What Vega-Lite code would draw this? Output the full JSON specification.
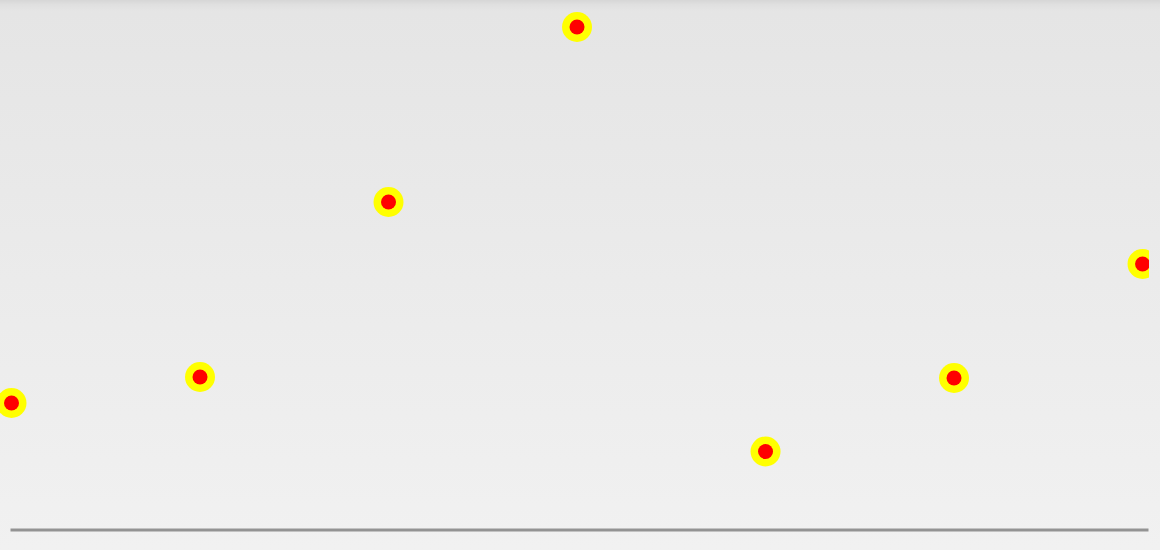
{
  "$schema": "https://vega.github.io/schema/vega-lite/v6.json",
  "width": 1149,
  "height": 550,
  "padding": {"left": 0, "top": 0, "right": 11, "bottom": 0},
  "autosize": {"type": "none"},
  "background": "#ebebeb",
  "config": {
    "view": {"stroke": null}
  },
  "encoding": {
    "x": {
      "type": "quantitative",
      "scale": {"domain": [-0.008, 6.029], "range": [10, 1148], "nice": false, "zero": false},
      "axis": {
        "title": null,
        "labels": false,
        "ticks": false,
        "grid": false,
        "domain": true,
        "domainColor": "#939393",
        "domainWidth": 3,
        "offset": -20.5,
        "zindex": 1
      }
    }
  },
  "layer": [
    {
      "data": {"values": [{"from": -1, "to": 7}]},
      "mark": {
        "type": "rect",
        "clip": false,
        "color": {
          "gradient": "linear",
          "x1": 0, "y1": 0, "x2": 0, "y2": 1,
          "stops": [
            {"offset": 0, "color": "#d6d6d6"},
            {"offset": 0.008, "color": "#dfdfdf"},
            {"offset": 0.02, "color": "#e5e5e5"},
            {"offset": 1, "color": "#f1f1f1"}
          ]
        }
      },
      "encoding": {
        "x": {"field": "from", "type": "quantitative"},
        "x2": {"field": "to"}
      }
    },
    {
      "data": {
        "values": [
          {"index": 0, "value": 126},
          {"index": 1, "value": 152},
          {"index": 2, "value": 327},
          {"index": 3, "value": 502},
          {"index": 4, "value": 77.5},
          {"index": 5, "value": 151},
          {"index": 6, "value": 265}
        ]
      },
      "encoding": {
        "x": {"field": "index", "type": "quantitative"},
        "y": {
          "field": "value",
          "type": "quantitative",
          "scale": {"domain": [-21, 529], "nice": false, "zero": false},
          "axis": null
        }
      },
      "layer": [
        {"mark": {"type": "point", "shape": "circle", "filled": true, "color": "#ffff00", "opacity": 1, "size": 900, "clip": true}},
        {"mark": {"type": "point", "shape": "circle", "filled": true, "color": "#ff0000", "opacity": 1, "size": 225, "clip": true}}
      ]
    }
  ]
}
